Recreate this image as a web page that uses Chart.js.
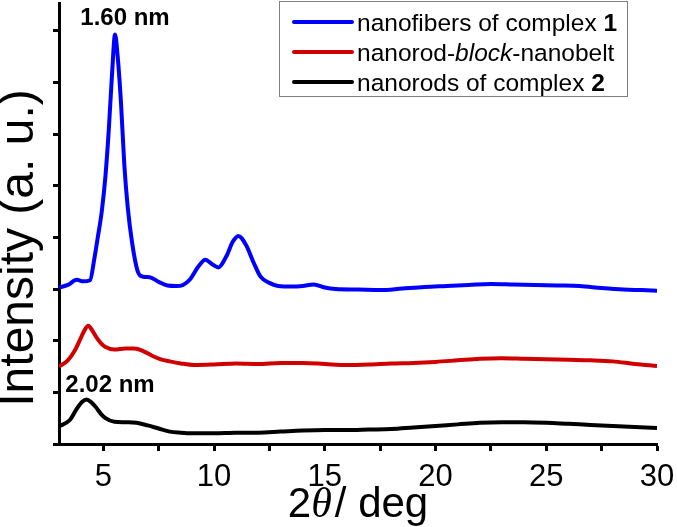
<!DOCTYPE html>
<html><head><meta charset="utf-8">
<script src="https://cdn.jsdelivr.net/npm/chart.js@4.4.1/dist/chart.umd.min.js"></script>
<style>html,body{margin:0;padding:0;background:#fff;}canvas{display:block;}</style>
</head><body>
<canvas id="c" width="677" height="527"></canvas>
<script>
// ---- data ----
const xTickValues = [5, 7.5, 10, 12.5, 15, 17.5, 20, 22.5, 25, 27.5, 30];
const yTickValues = [0, 1, 2, 3, 4, 5, 6, 7, 8];
const seriesNames = ['nanofibers of complex 1', 'nanorod-block-nanobelt', 'nanorods of complex 2'];

const blueX = [3.0, 3.4, 3.8, 4.1, 4.4, 4.6, 4.75, 4.93, 5.1, 5.25, 5.4, 5.53, 5.65, 5.8, 5.95, 6.1, 6.3, 6.55, 6.8, 7.1, 7.5, 7.9, 8.3, 8.6, 8.9, 9.3, 9.6, 9.95, 10.2, 10.55, 10.85, 11.1, 11.45, 11.8, 12.1, 12.5, 12.9, 13.5, 14.0, 14.5, 15.0, 15.5, 16.5, 17.5, 18.5, 19.5, 20.5, 21.5, 22.5, 23.5, 24.5, 25.5, 26.5, 27.5, 28.5, 29.3, 30.0];
const blueY = [3.03, 3.08, 3.18, 3.15, 3.17, 3.6, 4.0, 4.5, 5.2, 6.1, 7.2, 7.93, 7.5, 6.6, 5.4, 4.6, 3.9, 3.35, 3.24, 3.23, 3.14, 3.07, 3.06, 3.08, 3.18, 3.44, 3.57, 3.47, 3.42, 3.63, 3.92, 4.03, 3.85, 3.5, 3.24, 3.12, 3.06, 3.05, 3.06, 3.09, 3.03, 3.0, 2.99, 2.98, 3.01, 3.04, 3.06, 3.08, 3.1, 3.09, 3.08, 3.07, 3.06, 3.02, 2.99, 2.98, 2.97];

const redX = [3.0, 3.4, 3.7, 3.95, 4.15, 4.32, 4.5, 4.7, 4.9, 5.1, 5.5, 6.0, 6.4, 6.8, 7.2, 7.6, 8.0, 8.5, 9.1, 10.0, 11.0, 12.0, 13.0, 14.0, 15.0, 16.0, 17.0, 18.0, 19.0, 20.0, 21.0, 22.0, 23.0, 24.0, 25.0, 26.0, 27.0, 28.0, 29.0, 30.0];
const redY = [1.50, 1.62, 1.80, 2.02, 2.20, 2.29, 2.20, 2.06, 1.95, 1.88, 1.83, 1.85, 1.85, 1.80, 1.71, 1.64, 1.60, 1.56, 1.53, 1.54, 1.56, 1.55, 1.57, 1.57, 1.55, 1.53, 1.54, 1.56, 1.57, 1.59, 1.62, 1.65, 1.66, 1.65, 1.64, 1.63, 1.62, 1.60, 1.55, 1.51];

const blackX = [3.0, 3.5, 3.8, 4.05, 4.25, 4.45, 4.65, 4.9, 5.1, 5.5, 6.0, 6.5, 7.0, 7.5, 8.0, 8.5, 9.0, 10.0, 11.0, 12.0, 13.0, 14.0, 15.0, 16.0, 17.0, 18.0, 19.0, 20.0, 21.0, 22.0, 23.0, 24.0, 25.0, 26.0, 27.0, 28.0, 29.0, 30.0];
const blackY = [0.34, 0.47, 0.68, 0.82, 0.86, 0.81, 0.72, 0.58, 0.50, 0.43, 0.42, 0.41, 0.36, 0.30, 0.24, 0.22, 0.21, 0.21, 0.22, 0.22, 0.24, 0.26, 0.27, 0.27, 0.28, 0.29, 0.32, 0.35, 0.38, 0.41, 0.42, 0.42, 0.41, 0.39, 0.37, 0.35, 0.33, 0.31];

const seriesColors = ['#0000ff', '#d00000', '#000000'];
// ---------------

const FONT = "'Liberation Sans', Arial, sans-serif";
const pts = (xs, ys) => xs.map((x, i) => ({x: x, y: ys[i]}));

const overlay = {
  id: 'overlay',
  afterDraw(chart) {
    const ctx = chart.ctx;
    const a = chart.chartArea;
    ctx.save();
    ctx.fillStyle = '#000';
    // peak annotations
    ctx.font = 'bold 24px ' + FONT;
    ctx.textAlign = 'center';
    ctx.textBaseline = 'middle';
    ctx.fillText('1.60 nm', 125, 18);
    ctx.fillText('2.02 nm', 110, 385);

    // y title
    ctx.save();
    ctx.translate(20, 248);
    ctx.rotate(-Math.PI / 2);
    ctx.font = '48px ' + FONT;
    ctx.textAlign = 'center';
    ctx.textBaseline = 'middle';
    ctx.fillText('Intensity (a. u.)', 0, 0);
    ctx.restore();

    // x title (mixed styles)
    const parts = [
      {t: '2', f: '42px ' + FONT},
      {t: 'θ', f: 'italic 42px "Liberation Serif", "DejaVu Serif", serif'},
      {t: '/ deg', f: '42px ' + FONT}
    ];
    let total = 0;
    parts.forEach(p => { ctx.font = p.f; p.w = ctx.measureText(p.t).width; total += p.w; });
    total += 3;
    let cx = (a.left + a.right) / 2 - total / 2;
    ctx.textAlign = 'left';
    ctx.textBaseline = 'alphabetic';
    parts.forEach((p, i) => { ctx.font = p.f; ctx.fillText(p.t, cx, 517); cx += p.w + (i === 1 ? 3 : 0); });

    // legend
    ctx.strokeStyle = '#808080';
    ctx.lineWidth = 1;
    ctx.strokeRect(279.5, 1.5, 348, 95);
    const legendParts = [
      [{t: 'nanofibers of complex ', s: ''}, {t: '1', s: 'bold '}],
      [{t: 'nanorod-', s: ''}, {t: 'block', s: 'italic '}, {t: '-nanobelt', s: ''}],
      [{t: 'nanorods of complex ', s: ''}, {t: '2', s: 'bold '}]
    ];
    const ly = [22, 52, 82];
    legendParts.forEach((row, i) => {
      ctx.strokeStyle = seriesColors[i];
      ctx.lineWidth = 4;
      ctx.lineCap = 'round';
      ctx.beginPath(); ctx.moveTo(294, ly[i]); ctx.lineTo(352, ly[i]); ctx.stroke();
      let x = 357;
      ctx.fillStyle = '#000';
      ctx.textBaseline = 'middle';
      row.forEach(p => { ctx.font = p.s + '24.5px ' + FONT; ctx.fillText(p.t, x, ly[i] + 2); x += ctx.measureText(p.t).width; });
    });
    ctx.restore();
  }
};

const mk = (i, xs, ys) => ({
  label: seriesNames[i], data: pts(xs, ys), borderColor: seriesColors[i],
  borderWidth: 4, pointRadius: 0, fill: false, cubicInterpolationMode: 'monotone'
});

new Chart(document.getElementById('c'), {
  type: 'line',
  data: { datasets: [mk(0, blueX, blueY), mk(1, redX, redY), mk(2, blackX, blackY)] },
  options: {
    responsive: false,
    animation: false,
    devicePixelRatio: 1,
    layout: { padding: { top: 3, right: 20, left: 0, bottom: 0 } },
    plugins: { legend: { display: false }, tooltip: { enabled: false } },
    scales: {
      x: {
        type: 'linear', min: 3, max: 30,
        afterBuildTicks: s => { s.ticks = xTickValues.map(v => ({value: v})); },
        afterFit: s => { s.height = 83; s.paddingLeft = 0; s.paddingRight = 0; },
        grid: { drawOnChartArea: false, drawTicks: true, tickLength: 7, tickWidth: 3, tickColor: '#000' },
        border: { display: true, color: '#000', width: 3 },
        ticks: { font: { family: FONT, size: 31 }, color: '#000', padding: 8, maxRotation: 0, autoSkip: false,
          callback: v => (v % 5 === 0 ? String(v) : '') }
      },
      y: {
        min: 0, max: 8.54,
        afterBuildTicks: s => { s.ticks = yTickValues.map(v => ({value: v})); },
        afterFit: s => { s.width = 59; s.paddingTop = 0; s.paddingBottom = 0; },
        grid: { drawOnChartArea: false, drawTicks: true, tickLength: 6, tickWidth: 3, tickColor: '#000' },
        border: { display: true, color: '#000', width: 3 },
        ticks: { display: false }
      }
    }
  },
  plugins: [overlay]
});
</script>
</body></html>
